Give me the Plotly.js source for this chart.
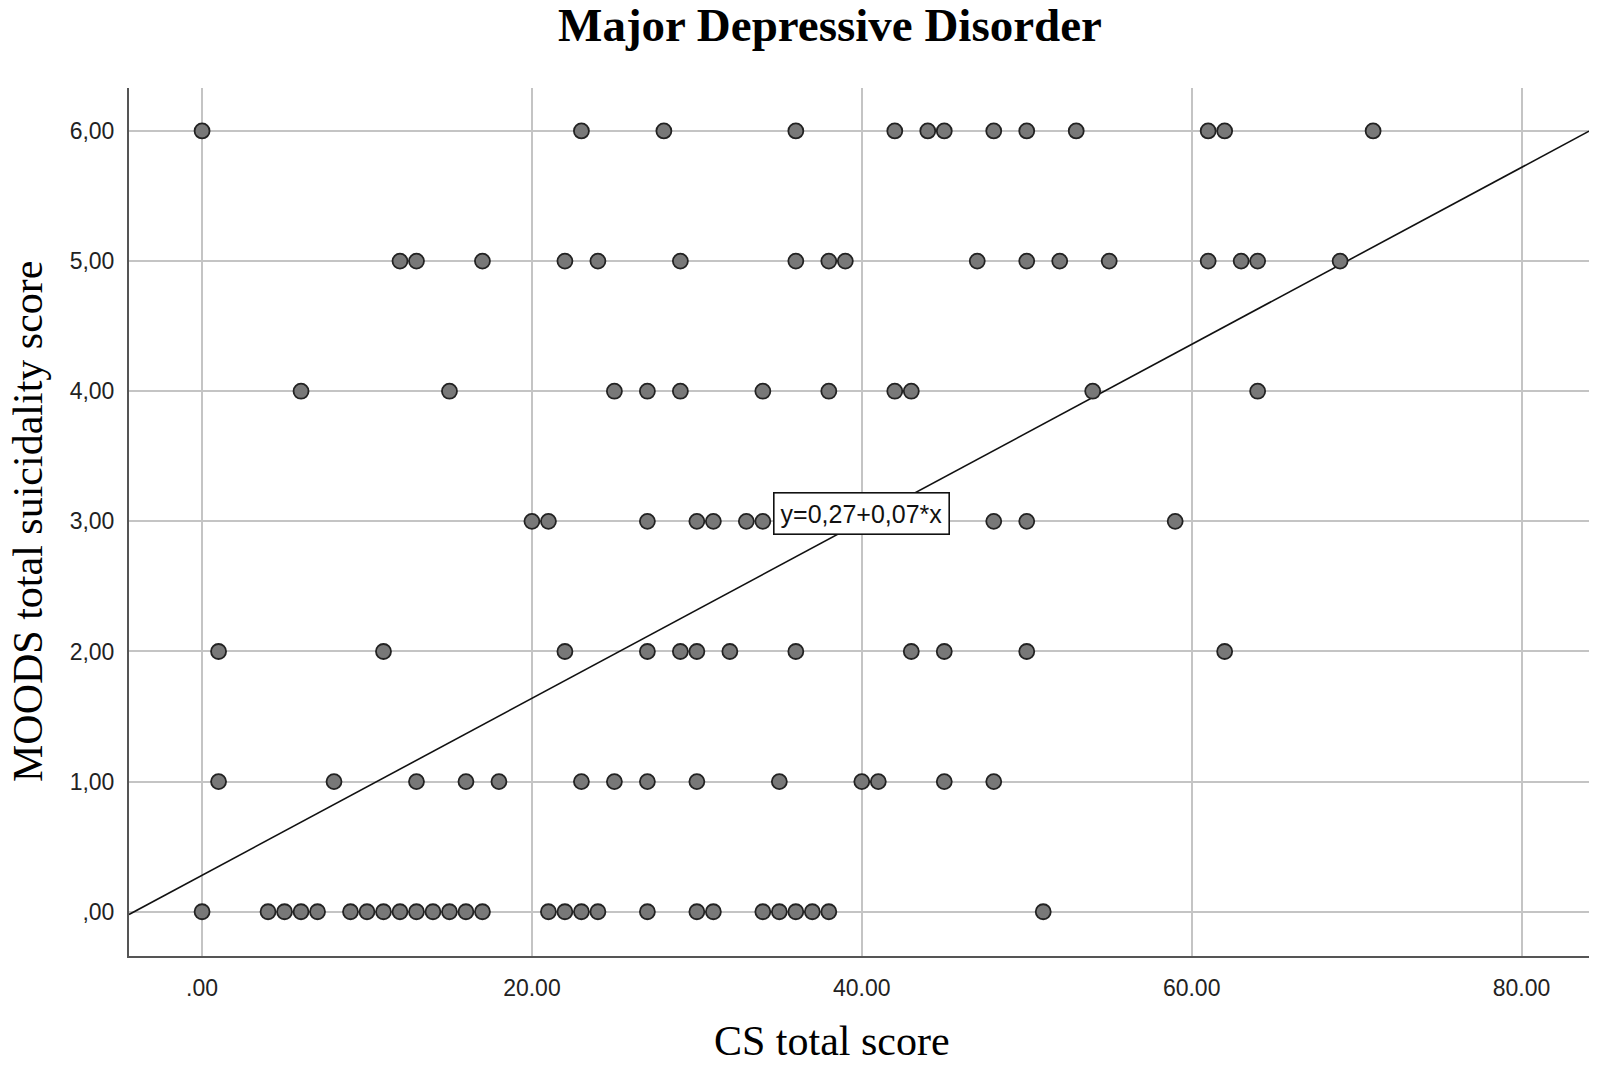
<!DOCTYPE html>
<html>
<head>
<meta charset="utf-8">
<script src="https://cdn.plot.ly/plotly-3.0.1.min.js"></script>
<style>
  html, body { margin: 0; padding: 0; background: #fff; }
  #chart { width: 1599px; height: 1067px; }
</style>
</head>
<body>
<div id="chart"></div>
<script>
// ── Data: CS total score of each case, grouped by MOODS suicidality score ──
const suicidalityLevels = [6, 5, 4, 3, 2, 1, 0];
const csAtLevel6 = [0, 23, 28, 36, 42, 44, 45, 48, 50, 53, 61, 62, 71];
const csAtLevel5 = [12, 13, 17, 22, 24, 29, 36, 38, 39, 47, 50, 52, 55, 61, 63, 64, 69];
const csAtLevel4 = [6, 15, 25, 27, 29, 34, 38, 42, 43, 54, 64];
const csAtLevel3 = [20, 21, 27, 30, 31, 33, 34, 48, 50, 59];
const csAtLevel2 = [1, 11, 22, 27, 29, 30, 32, 36, 43, 45, 50, 62];
const csAtLevel1 = [1, 8, 13, 16, 18, 23, 25, 27, 30, 35, 40, 41, 45, 48];
const csAtLevel0 = [0, 4, 5, 6, 7, 9, 10, 11, 12, 13, 14, 15, 16, 17,
                    21, 22, 23, 24, 27, 30, 31, 34, 35, 36, 37, 38, 51];

// Fit line as drawn (label shows rounded values)
const fitIntercept = 0.28;
const fitSlope = 0.068;
const fitLabel = 'y=0,27+0,07*x';

// Ticks
const xTickVals = [0, 20, 40, 60, 80];
const xTickText = ['.00', '20.00', '40.00', '60.00', '80.00'];
const yTickVals = [0, 1, 2, 3, 4, 5, 6];
const yTickText = [',00', '1,00', '2,00', '3,00', '4,00', '5,00', '6,00'];

const xRange = [-4.43, 84.09];
const yRange = [-0.34, 6.33];

// ── Build traces ──
const groups = [csAtLevel6, csAtLevel5, csAtLevel4, csAtLevel3, csAtLevel2, csAtLevel1, csAtLevel0];
const px = [];
const py = [];
groups.forEach((arr, i) => {
    arr.forEach(v => { px.push(v); py.push(suicidalityLevels[i]); });
});

const fitTrace = {
    x: xRange,
    y: xRange.map(v => fitIntercept + fitSlope * v),
    type: 'scatter',
    mode: 'lines',
    line: { color: '#111', width: 1.6 },
    hoverinfo: 'skip',
};

const pointTrace = {
    x: px,
    y: py,
    type: 'scatter',
    mode: 'markers',
    marker: {
        size: 15,
        color: '#787878',
        line: { color: '#222', width: 1.8 },
    },
};

const axisFont = { family: 'Liberation Sans, Arial, sans-serif', size: 23, color: '#222' };
const serif = 'Liberation Serif, Times New Roman, serif';

const layout = {
    width: 1599,
    height: 1067,
    paper_bgcolor: '#fff',
    plot_bgcolor: '#fff',
    showlegend: false,
    margin: { l: 129, r: 10, t: 88, b: 111 },
    title: {
        text: '<b>Major Depressive Disorder</b>',
        font: { family: serif, size: 47, color: '#000' },
        xref: 'container', yref: 'container',
        x: 830 / 1599, y: 1 - 25 / 1067,
        xanchor: 'center', yanchor: 'middle',
    },
    xaxis: {
        range: xRange,
        tickvals: xTickVals,
        ticktext: xTickText,
        tickfont: axisFont,
        ticks: '',
        ticklabelstandoff: 10,
        showgrid: true,
        gridcolor: '#c4c4c4',
        gridwidth: 1.6,
        zeroline: false,
        showline: true,
        linecolor: '#555',
        linewidth: 2,
        fixedrange: true,
    },
    yaxis: {
        range: yRange,
        tickvals: yTickVals,
        ticktext: yTickText,
        tickfont: axisFont,
        ticks: '',
        ticklabelstandoff: 8,
        showgrid: true,
        gridcolor: '#c4c4c4',
        gridwidth: 1.6,
        zeroline: false,
        showline: true,
        linecolor: '#555',
        linewidth: 2,
        fixedrange: true,
    },
    annotations: [
        {
            text: fitLabel,
            x: 40, y: 3.06, xref: 'x', yref: 'y',
            showarrow: false,
            font: { family: 'Liberation Sans, Arial, sans-serif', size: 25, color: '#111' },
            bgcolor: '#fff',
            bordercolor: '#111',
            borderwidth: 1.6,
            borderpad: 6,
        },
        {
            text: 'CS total score',
            xref: 'paper', yref: 'paper',
            x: (832 - 129) / 1460, y: (956 - 1041) / 868,
            xanchor: 'center', yanchor: 'middle',
            showarrow: false,
            font: { family: serif, size: 42, color: '#000' },
        },
        {
            text: 'MOODS total suicidality score',
            xref: 'paper', yref: 'paper',
            x: (28 - 129) / 1460, y: 0.5,
            xanchor: 'center', yanchor: 'middle',
            textangle: -90,
            showarrow: false,
            font: { family: serif, size: 42, color: '#000' },
        },
    ],
};

Plotly.newPlot('chart', [fitTrace, pointTrace], layout, { displayModeBar: false, responsive: false });
</script>
</body>
</html>
